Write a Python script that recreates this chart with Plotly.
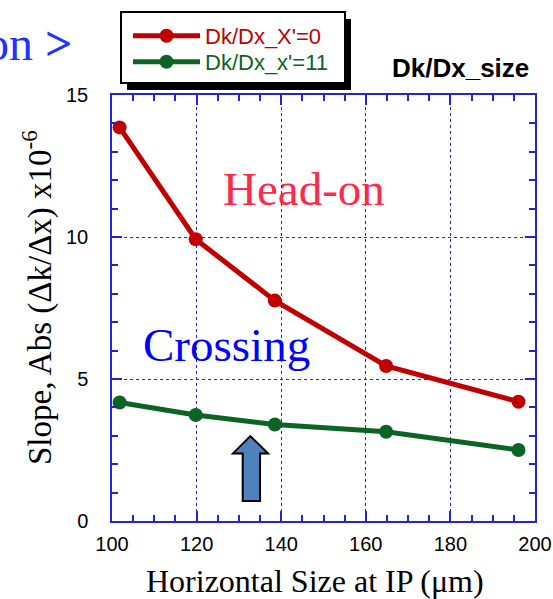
import plotly.graph_objects as go

# Beam size scan: horizontal size at the IP (um)
size_um = [101.8, 119.8, 138.5, 164.8, 196.1]
# |dk/dx| slope, units of 1e-6
slope_headon = [13.86, 9.92, 7.76, 5.46, 4.20]
slope_crossing = [4.17, 3.73, 3.40, 3.14, 2.50]

series_names = ["Dk/Dx_X'=0", "Dk/Dx_x'=11"]
series_colors = ["#c00000", "#0b6424"]

x_range = [100, 200]
y_range = [0, 15]

# outline of the block arrow pointing at the working point (data units)
arrow_x = [130.9, 135.0, 135.0, 136.9, 132.7, 128.6, 130.9]
arrow_y = [0.70, 0.70, 2.38, 2.38, 2.99, 2.38, 2.38]

SERIF = "Times New Roman, Liberation Serif, serif"
SANS = "Arial, Liberation Sans, sans-serif"
AXIS_BLUE = "#2323d8"

W, H = 553, 599
ML, MR, MT, MB = 112, 18, 95, 78
PW, PH = W - ML - MR, H - MT - MB


def px(x):
    return (x - ML) / PW


def py(y):
    return (H - MB - y) / PH


fig = go.Figure()
legend_ids = ["legend", "legend2"]
for name, ys, col, lg in zip(series_names, [slope_headon, slope_crossing], series_colors, legend_ids):
    fig.add_trace(go.Scatter(
        x=size_um, y=ys, mode="lines+markers",
        name=f"<span style='color:{col}'>{name}</span>",
        line=dict(color=col, width=5),
        marker=dict(color=col, size=14),
        cliponaxis=False,
        legend=lg,
    ))

axis_common = dict(
    showline=True, linecolor=AXIS_BLUE, linewidth=1.5, mirror="allticks",
    ticks="inside", ticklen=10, tickcolor=AXIS_BLUE, tickwidth=1.5,
    showgrid=True, gridcolor=AXIS_BLUE, griddash="dot", gridwidth=1,
    zeroline=False,
    tickfont=dict(family=SANS, size=20, color="black"),
)

fig.update_xaxes(range=x_range, dtick=20, tick0=100,
                 minor=dict(dtick=5, ticks="inside", ticklen=6, tickcolor=AXIS_BLUE, showgrid=False),
                 ticklabelstandoff=4, **axis_common)
fig.update_yaxes(range=y_range, dtick=5, tick0=0,
                 minor=dict(dtick=1, ticks="inside", ticklen=6, tickcolor=AXIS_BLUE, showgrid=False),
                 ticklabelstandoff=18, **axis_common)

# legend frame with drop shadow
lx0, ly0, lx1, ly1 = 121, 12, 345, 83
shapes = [
    dict(type="rect", xref="paper", yref="paper",
         x0=px(lx0 + 6), x1=px(lx1 + 6), y0=py(ly1 + 7), y1=py(ly0 + 7),
         fillcolor="black", line=dict(width=0)),
    dict(type="rect", xref="paper", yref="paper",
         x0=px(lx0), x1=px(lx1), y0=py(ly1), y1=py(ly0),
         fillcolor="white", line=dict(color="black", width=2)),
    dict(type="path", xref="x", yref="y",
         path="M " + " L ".join(f"{a},{b}" for a, b in zip(arrow_x, arrow_y)) + " Z",
         fillcolor="#4f81bd", line=dict(color="black", width=2)),
]


def paper_text(text, x, y, size, family, color="black", **kw):
    return dict(text=text, x=px(x), y=py(y), xref="paper", yref="paper",
                xanchor=kw.pop("xanchor", "center"), yanchor="middle",
                showarrow=False, font=dict(family=family, size=size, color=color), **kw)


annotations = [
    dict(text="Head-on", x=145.4, y=11.69, xref="x", yref="y", showarrow=False,
         xanchor="center", yanchor="middle",
         font=dict(family=SERIF, size=47, color="#ff2a4a")),
    dict(text="Crossing", x=127.05, y=6.18, xref="x", yref="y", showarrow=False,
         xanchor="center", yanchor="middle",
         font=dict(family=SERIF, size=47, color="#0000ff")),
    paper_text("on <b>></b>", 74, 44, 48, SERIF, "#2233ff", xanchor="right"),
    paper_text("<b>Dk/Dx_size</b>", 460, 68, 26, SANS),
    paper_text("Horizontal Size at IP (\u03bcm)", 315, 581, 32, SERIF),
    paper_text("Slope, Abs (\u0394k/\u0394x) x10<sup>-6</sup>", 37, 298, 33, SERIF, textangle=-90),
]

legend_style = dict(xanchor="left", yanchor="middle", bgcolor="rgba(0,0,0,0)", borderwidth=0,
                    font=dict(family=SANS, size=22), itemwidth=67)

fig.update_layout(
    width=W, height=H,
    margin=dict(l=ML, r=MR, t=MT, b=MB, pad=0, autoexpand=False),
    paper_bgcolor="white", plot_bgcolor="white",
    shapes=shapes, annotations=annotations,
    showlegend=True,
    legend=dict(x=px(128), y=py(36), **legend_style),
    legend2=dict(x=px(128), y=py(62), **legend_style),
)

fig.write_html("out.html")
